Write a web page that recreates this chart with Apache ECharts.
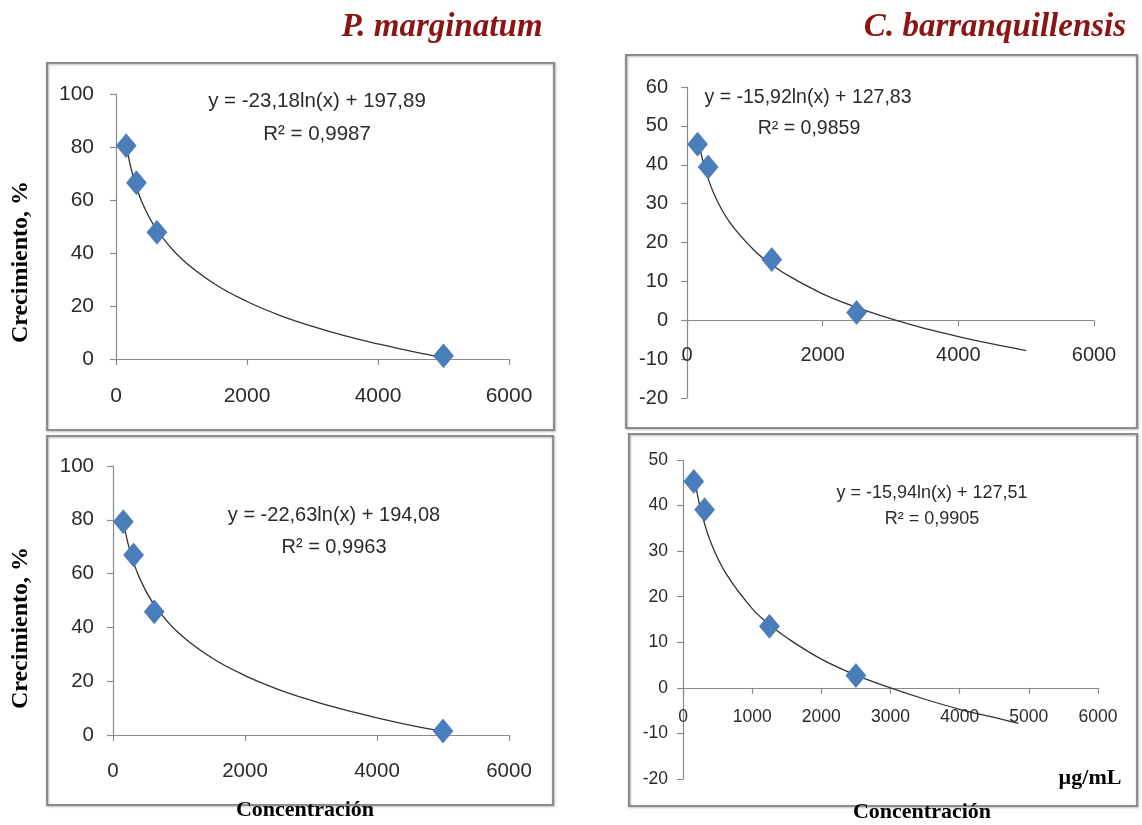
<!DOCTYPE html>
<html>
<head>
<meta charset="utf-8">
<script src="https://cdn.jsdelivr.net/npm/echarts@6/dist/echarts.min.js"></script>
<style>
html,body{margin:0;padding:0;background:#fff;}
#chart{width:1142px;height:825px;}
</style>
</head>
<body>
<div id="chart"></div>
<script>
// ---- Data ----
const concPM = [156, 312, 625, 5000];
const growthPM1 = [80.5, 66.5, 47.8, 1.2];
const growthPM2 = [79.3, 66.9, 45.8, 1.5];
const concCB = [156, 312, 1250, 2500];
const growthCB1 = [45.3, 39.4, 15.6, 2.0];
const growthCB2 = [45.3, 39.1, 13.5, 2.7];

// trend line points
const trendX1 = [156, 250, 400, 625, 1000, 1500, 2000, 2500, 3000, 3500, 4000, 4500, 5000];
const trendY1 = [81, 70, 59, 48.7, 37.8, 28.4, 21.7, 16.5, 12.3, 8.7, 5.7, 3, 0.5];
const trendX2 = [156, 250, 400, 625, 1000, 1250, 1500, 2000, 2500, 3000, 3500, 4000, 4500, 5000];
const trendY2 = [47.4, 39.9, 32.4, 25.3, 17.8, 14.3, 11.4, 6.8, 3.3, 0.4, -2.1, -4.2, -6.1, -7.8];
const trendX3 = [156, 250, 400, 625, 1000, 1500, 2000, 2500, 3000, 3500, 4000, 4500, 5000];
const trendY3 = [79.8, 69.1, 58.5, 48.4, 37.8, 28.6, 22.1, 17, 12.9, 9.4, 6.4, 3.7, 1.4];
const trendX4 = [156, 250, 400, 625, 1000, 1250, 1500, 2000, 2500, 3000, 3500, 4000, 4500, 4850];
const trendY4 = [47, 39.5, 32, 25, 17.4, 13.9, 11, 6.3, 2.8, 0, -2.5, -4.7, -6.5, -7.8];

const xTicks = {a: [0, 6000, 2000], b: [0, 6000, 1000]};
const yTicksPM = [0, 100, 20];
const yTicksCB1 = [-20, 60, 10];
const yTicksCB2 = [-20, 50, 10];

const labels = {
  titlePM: 'P. marginatum',
  titleCB: 'C. barranquillensis',
  yName: 'Crecimiento, %',
  xName: 'Concentración',
  unit: 'µg/mL',
  eq1: 'y = -23,18ln(x) + 197,89', r1: 'R² = 0,9987',
  eq2: 'y = -15,92ln(x) + 127,83', r2: 'R² = 0,9859',
  eq3: 'y = -22,63ln(x) + 194,08', r3: 'R² = 0,9963',
  eq4: 'y = -15,94ln(x) + 127,51', r4: 'R² = 0,9905'
};

// ---- Helpers ----
const pair = (xs, ys) => xs.map((x, i) => [x, ys[i]]);
const axisColor = '#8a8a8a';
const labelColor = '#2b2b2b';
const numFont = '"Liberation Sans", Arial, sans-serif';
const serif = '"Liberation Serif", "DejaVu Serif", serif';

// offset: shift x axis up to the y=0 line (px) when y range includes negatives
function xAxis(idx, t, fs, margin, offset) {
  return {
    type: 'value', gridIndex: idx, min: t[0], max: t[1], interval: t[2],
    offset: offset || 0,
    splitLine: {show: false},
    axisLine: {show: true, onZero: false, lineStyle: {color: axisColor, width: 1.2}},
    axisTick: {show: true, length: 6, lineStyle: {color: axisColor, width: 1.2}},
    axisLabel: {color: labelColor, fontSize: fs, fontFamily: numFont, margin: margin,
      formatter: v => String(v)}
  };
}
function yAxis(idx, t, fs, margin) {
  return {
    type: 'value', gridIndex: idx, min: t[0], max: t[1], interval: t[2],
    splitLine: {show: false},
    axisLine: {show: true, onZero: false, lineStyle: {color: axisColor, width: 1.2}},
    axisTick: {show: true, length: 6, lineStyle: {color: axisColor, width: 1.2}},
    axisLabel: {color: labelColor, fontSize: fs, fontFamily: numFont, margin: margin,
      formatter: v => String(v)}
  };
}
function trend(idx, data) {
  return {
    type: 'line', xAxisIndex: idx, yAxisIndex: idx, data: data, smooth: 0.4,
    showSymbol: false, symbol: 'none', silent: true,
    lineStyle: {color: '#333333', width: 1.3}, z: 2
  };
}
function points(idx, data) {
  return {
    type: 'scatter', xAxisIndex: idx, yAxisIndex: idx, data: data,
    symbol: 'diamond', symbolSize: [20, 24],
    itemStyle: {color: '#4a7ebb', borderColor: '#3d6ca6', borderWidth: 0.6, opacity: 1}, z: 3
  };
}
function txt(x, y, text, font, fill, rot) {
  return {
    type: 'text', x: x, y: y, rotation: rot || 0, z: 10,
    style: {text: text, font: font, fill: fill || labelColor,
      align: 'center', verticalAlign: 'middle',
      textAlign: 'center', textVerticalAlign: 'middle'}
  };
}
function box(x, y, w, h) {
  return {
    type: 'rect', shape: {x: x, y: y, width: w, height: h}, z: 0,
    style: {fill: 'none', stroke: '#8c8c8c', lineWidth: 2.2,
      shadowBlur: 2, shadowColor: 'rgba(0,0,0,0.25)', shadowOffsetX: 1, shadowOffsetY: 1}
  };
}

const chart = echarts.init(document.getElementById('chart'));
chart.setOption({
  backgroundColor: '#ffffff',
  animation: false,
  grid: [
    {left: 116, top: 94, width: 393, height: 265},
    {left: 687, top: 87, width: 407, height: 311},
    {left: 113, top: 466, width: 396, height: 269},
    {left: 683, top: 460, width: 415, height: 319}
  ],
  xAxis: [
    xAxis(0, xTicks.a, 21, 27),
    xAxis(1, xTicks.a, 20, 25, -311 * 20 / 80),
    xAxis(2, xTicks.a, 20.5, 26),
    xAxis(3, xTicks.b, 17.5, 20, -319 * 20 / 70)
  ],
  yAxis: [
    yAxis(0, yTicksPM, 21, 22),
    yAxis(1, yTicksCB1, 20, 19),
    yAxis(2, yTicksPM, 20.5, 19),
    yAxis(3, yTicksCB2, 17.5, 15)
  ],
  series: [
    trend(0, pair(trendX1, trendY1)), points(0, pair(concPM, growthPM1)),
    trend(1, pair(trendX2, trendY2)), points(1, pair(concCB, growthCB1)),
    trend(2, pair(trendX3, trendY3)), points(2, pair(concPM, growthPM2)),
    trend(3, pair(trendX4, trendY4)), points(3, pair(concCB, growthCB2))
  ],
  graphic: [
    box(47, 63, 507, 367),
    box(626, 55, 511, 373),
    box(47, 436, 506, 369),
    box(629, 434, 508, 372),
    txt(442, 27, labels.titlePM, 'italic bold 33px ' + serif, '#8b1414'),
    txt(995, 27, labels.titleCB, 'italic bold 33px ' + serif, '#8b1414'),
    txt(21, 262, labels.yName, 'bold 24px ' + serif, '#000', Math.PI / 2),
    txt(21, 628, labels.yName, 'bold 24px ' + serif, '#000', Math.PI / 2),
    txt(305, 810, labels.xName, 'bold 22px ' + serif, '#000'),
    txt(922, 812, labels.xName, 'bold 22px ' + serif, '#000'),
    txt(1090, 778, labels.unit, 'bold 22px ' + serif, '#000'),
    txt(317, 101, labels.eq1, '20.5px ' + numFont),
    txt(317, 134, labels.r1, '20.5px ' + numFont),
    txt(808, 98, labels.eq2, '19.5px ' + numFont),
    txt(809, 129, labels.r2, '19.5px ' + numFont),
    txt(334, 515, labels.eq3, '20px ' + numFont),
    txt(334, 547, labels.r3, '20px ' + numFont),
    txt(932, 493, labels.eq4, '18px ' + numFont),
    txt(932, 519, labels.r4, '18px ' + numFont)
  ]
});
</script>
</body>
</html>
